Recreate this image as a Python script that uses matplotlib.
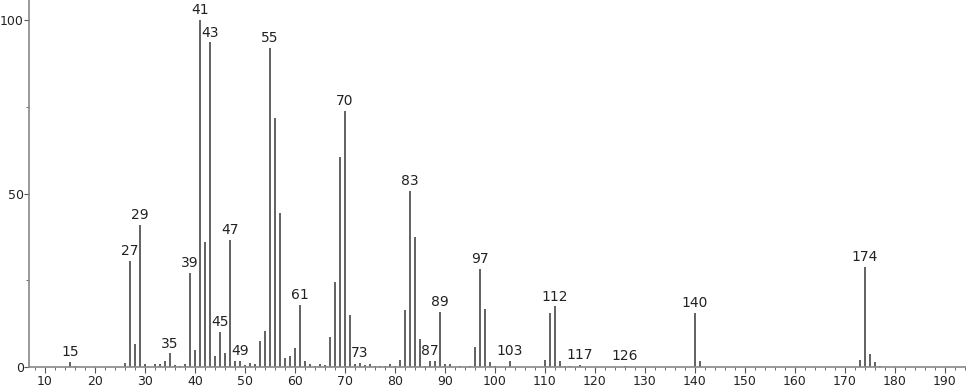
import matplotlib
matplotlib.use("Agg")
import matplotlib.pyplot as plt
from matplotlib.ticker import MultipleLocator

mz = [15, 16, 26, 27, 28, 29, 30, 32, 33, 34, 35, 36, 37, 38, 39, 40, 41, 42, 43, 44,
      45, 46, 47, 48, 49, 50, 51, 52, 53, 54, 55, 56, 57, 58, 59, 60, 61, 62, 63, 64,
      65, 66, 67, 68, 69, 70, 71, 72, 73, 74, 75, 76, 77, 78, 79, 80, 81, 82, 83, 84,
      85, 86, 87, 88, 89, 90, 91, 93, 95, 96, 97, 98, 99, 100, 103, 110, 111, 112, 113, 114,
      115, 117, 126, 140, 141, 173, 174, 175, 176, 177]
intensity = [1.5, 0.3, 1.2, 30.5, 6.6, 40.9, 0.9, 0.8, 0.8, 1.8, 3.9, 0.5, 0.3, 0.8, 27.2, 4.9, 100, 36.1, 93.6, 3.2,
             10.2, 4.1, 36.6, 1.7, 1.7, 0.5, 1.2, 0.8, 7.5, 10.4, 92.1, 71.7, 44.5, 2.7, 3.2, 5.6, 17.9, 1.7, 0.9, 0.4,
             0.9, 0.7, 8.6, 24.6, 60.6, 73.9, 15.0, 0.8, 1.2, 0.5, 0.8, 0.4, 0.4, 0.3, 0.8, 0.3, 2.0, 16.4, 50.8, 37.4,
             8.1, 0.3, 1.7, 1.7, 15.9, 0.8, 0.8, 0.2, 0.2, 5.7, 28.2, 16.6, 1.5, 0.3, 1.7, 1.9, 15.5, 17.5, 1.7, 0.4,
             0.3, 0.5, 0.3, 15.7, 1.8, 2.0, 28.9, 3.7, 1.5, 0.4]
labeled = [15, 27, 29, 35, 39, 41, 43, 45, 47, 49, 55, 61, 70, 73, 83, 87, 89, 97, 103, 112, 117, 126, 140, 174]

fig = plt.figure(figsize=(9.66, 3.89), dpi=100)
ax = fig.add_axes([0.030, 0.0566, 0.970, 0.9434])

ax.vlines(mz, 0, intensity, colors="#555555", linewidth=1.3)
lookup = dict(zip(mz, intensity))
for m in labeled:
    ax.text(m, lookup[m] + 0.8, str(m), ha="center", va="bottom",
            fontsize=10, color="#222222", family="DejaVu Sans")

ax.set_xlim(6.8, 194.2)
ax.set_ylim(0, 105.8)
ax.xaxis.set_major_locator(MultipleLocator(10))
ax.xaxis.set_minor_locator(MultipleLocator(2))
ax.yaxis.set_major_locator(MultipleLocator(50))
ax.yaxis.set_minor_locator(MultipleLocator(25))
for s in ["top", "right"]:
    ax.spines[s].set_visible(False)
for s in ["left", "bottom"]:
    ax.spines[s].set_color("#888888")
    ax.spines[s].set_linewidth(1.2)
ax.tick_params(axis="x", which="major", length=4, color="#555555", labelsize=9,
               labelcolor="#222222", pad=1.5)
ax.tick_params(axis="y", which="major", length=3.5, color="#555555", labelsize=9,
               labelcolor="#222222", pad=0.3)
ax.tick_params(axis="both", which="minor", length=2.5, color="#555555")
ax.patch.set_alpha(0)

fig.savefig("out.png", dpi=100)
